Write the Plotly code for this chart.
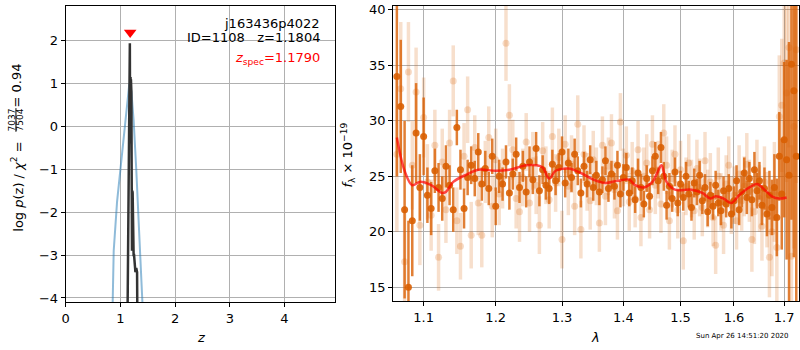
import numpy as np
import plotly.graph_objects as go

W, H = 800, 350
FONT = "DejaVu Sans"

# ---------------- redshift PDF panel ----------------
PZ_Z = [1.120, 1.133, 1.150, 1.160, 1.165, 1.173, 1.176, 1.180, 1.186, 1.190,
        1.193, 1.197, 1.201, 1.206, 1.212, 1.218, 1.224, 1.230, 1.236, 1.242,
        1.250, 1.258, 1.266, 1.275, 1.290, 1.305, 1.318]
PZ_LOGP = [-6.0, -4.1, -1.0, 1.50, 1.94, 1.94, 0.60, 1.15, 1.15, -0.40,
           1.10, -0.40, 0.80, -1.00, -2.90, -1.50, -1.55, -2.90, -1.60, -3.00,
           -3.00, -3.20, -3.20, -3.40, -3.30, -3.40, -6.0]

PRIOR_Z = [0.845, 0.862, 0.878, 0.939, 1.030, 1.090, 1.133, 1.163, 1.200,
           1.242, 1.290, 1.350, 1.393, 1.420, 1.435]
PRIOR_LOGP = [-5.0, -4.1, -2.9, -1.76, -0.62, 0.15, 0.76, 0.99, 0.83,
              0.14, -1.0, -2.53, -3.53, -4.1, -5.0]

Z_SPEC = 1.1790
Z_SPEC_MARK = 2.19

# ---------------- spectrum panel ----------------
WAVE = [1.065, 1.070, 1.075, 1.080, 1.085, 1.090, 1.095, 1.100, 1.105, 1.110,
        1.115, 1.120, 1.125, 1.130, 1.135, 1.140, 1.145, 1.150, 1.155, 1.160,
        1.165, 1.170, 1.175, 1.180, 1.185, 1.190, 1.195, 1.200, 1.205, 1.210,
        1.215, 1.220, 1.225, 1.230, 1.235, 1.240, 1.245, 1.250, 1.255, 1.260,
        1.265, 1.270, 1.275, 1.280, 1.285, 1.290, 1.295, 1.300, 1.305, 1.310,
        1.315, 1.320, 1.325, 1.330, 1.335, 1.340, 1.345, 1.350, 1.355, 1.360,
        1.365, 1.370, 1.375, 1.380, 1.385, 1.390, 1.395, 1.400, 1.405, 1.410,
        1.415, 1.420, 1.425, 1.430, 1.435, 1.440, 1.445, 1.450, 1.455, 1.460,
        1.465, 1.470, 1.475, 1.480, 1.485, 1.490, 1.495, 1.500, 1.505, 1.510,
        1.515, 1.520, 1.525, 1.530, 1.535, 1.540, 1.545, 1.550, 1.555, 1.560,
        1.565, 1.570, 1.575, 1.580, 1.585, 1.590, 1.595, 1.600, 1.605, 1.610,
        1.615, 1.620, 1.625, 1.630, 1.635, 1.640, 1.645, 1.650, 1.655, 1.660,
        1.665, 1.670, 1.675, 1.680, 1.685, 1.690, 1.695, 1.700, 1.705, 1.710,
        1.715, 1.720, 1.725]

FLUX_A = [34.0, 31.3, 22.0, 15.0, 21.0, 28.9, 24.0, 28.6, 23.3, 22.1,
          25.5, 24.0, 23.0, 25.9, 24.2, 22.0, 29.4, 25.6, 22.1, 24.9,
          26.0, 24.8, 27.2, 24.3, 25.7, 23.9, 26.8, 22.3, 25.0, 24.3,
          26.3, 23.5, 25.2, 27.0, 24.0, 25.9, 23.6, 26.3, 24.7, 27.5,
          23.7, 25.6, 24.2, 23.9, 26.1, 24.6, 25.8, 27.2, 24.4, 26.2,
          24.9, 27.0, 25.5, 23.5, 25.9, 24.3, 26.5, 24.0, 25.1, 23.6,
          24.7, 26.4, 23.9, 25.2, 24.1, 26.0, 23.4, 24.9, 25.8, 23.5,
          24.6, 22.9, 25.3, 24.0, 22.5, 24.8, 23.2, 25.5, 26.8, 24.6,
          27.6, 25.0, 22.4, 24.1, 23.0, 25.4, 22.6, 24.3, 23.1, 25.0,
          23.4, 22.2, 24.4, 23.6, 25.1, 22.8, 24.0, 21.8, 23.3, 22.3,
          24.2, 22.6, 21.9, 23.7, 22.5, 23.9, 21.6, 22.8, 24.6, 22.0,
          23.6, 25.3, 23.1, 24.8, 22.9, 25.6, 23.7, 24.6, 22.4, 23.9,
          21.6, 23.3, 22.2, 24.0, 21.3, 26.8, 23.4, 28.3, 26.5, 25.1,
          35.1, 32.7, 26.8]
ERR_A = [9.0, 6.0, 8.0, 6.0, 5.0, 4.5, 3.0, 3.5, 2.5, 2.4,
         2.0, 2.2, 2.0, 1.9, 1.8, 2.0, 1.6, 1.8, 1.8, 1.6,
         1.7, 1.6, 1.7, 1.5, 1.6, 1.5, 1.6, 1.7, 1.5, 1.5,
         1.5, 1.5, 1.4, 1.5, 1.4, 1.4, 1.4, 1.4, 1.3, 1.5,
         1.4, 1.3, 1.3, 1.4, 1.3, 1.3, 1.3, 1.4, 1.3, 1.3,
         1.3, 1.4, 1.3, 1.3, 1.3, 1.2, 1.3, 1.2, 1.3, 1.2,
         1.2, 1.3, 1.2, 1.2, 1.2, 1.3, 1.2, 1.2, 1.3, 1.2,
         1.2, 1.2, 1.3, 1.2, 1.2, 1.2, 1.2, 1.3, 1.3, 1.2,
         1.4, 1.3, 1.3, 1.2, 1.2, 1.3, 1.2, 1.2, 1.2, 1.3,
         1.2, 1.2, 1.3, 1.2, 1.3, 1.2, 1.2, 1.3, 1.2, 1.2,
         1.3, 1.2, 1.3, 1.3, 1.2, 1.3, 1.3, 1.3, 1.4, 1.4,
         1.4, 1.4, 1.5, 1.5, 1.5, 1.6, 1.6, 1.7, 1.8, 1.9,
         2.0, 2.2, 2.5, 3.0, 3.5, 4.0, 5.0, 7.0, 9.0, 12.0,
         14.0, 15.0, 16.0]

FLUX_B = [27.0, 32.9, 17.3, 34.4, 26.0, 32.6, 20.6, 30.3, 24.5, 21.5,
          27.8, 17.7, 26.3, 22.0, 28.0, 33.6, 21.0, 18.7, 26.8, 31.0,
          19.7, 27.6, 22.6, 19.7, 25.4, 28.5, 22.3, 26.5, 23.4, 24.8,
          37.0, 30.5, 27.4, 23.0, 21.8, 24.9, 28.1, 22.6, 26.4, 24.2,
          20.6, 27.3, 25.1, 22.9, 28.6, 24.4, 26.7, 19.3, 27.9, 24.1,
          26.1, 22.3, 29.7, 20.2, 27.0, 24.5, 22.8, 26.5, 25.0, 20.8,
          27.8, 23.2, 25.9, 28.0, 23.8, 21.9, 29.9, 24.9, 26.9, 22.7,
          25.5, 23.0, 27.4, 21.3, 25.0, 26.2, 22.0, 27.9, 24.2, 25.6,
          22.5, 28.9, 26.0, 21.0, 24.8, 27.0, 22.0, 25.6, 19.2, 24.1,
          26.2, 23.9, 21.9, 25.7, 24.0, 22.2, 26.4, 23.0, 24.5, 21.3,
          18.8, 25.0, 22.7, 20.6, 24.3, 26.0, 22.4, 23.3, 21.0, 25.2,
          22.8, 24.1, 26.1, 23.7, 19.3, 21.8, 25.3, 23.0, 20.5, 24.5,
          22.0, 17.7, 20.0, 23.6, 18.6, 30.4, 31.4, 35.2, 32.5, 36.6,
          17.8, 29.5, 36.4]
ERR_B = [7.0, 6.0, 5.0, 4.5, 4.0, 4.0, 3.6, 3.6, 3.4, 3.2,
         3.2, 3.0, 3.0, 3.0, 3.0, 3.2, 3.0, 3.0, 3.0, 3.0,
         3.0, 2.9, 2.9, 2.9, 2.8, 2.8, 2.8, 2.8, 2.8, 2.7,
         3.4, 2.8, 2.7, 2.7, 2.7, 2.6, 2.6, 2.6, 2.6, 2.6,
         2.6, 2.6, 2.6, 2.6, 2.6, 2.6, 2.6, 2.6, 2.6, 2.6,
         2.6, 2.6, 2.6, 2.6, 2.6, 2.6, 2.6, 2.6, 2.6, 2.6,
         2.6, 2.6, 2.6, 2.6, 2.6, 2.6, 2.6, 2.6, 2.6, 2.6,
         2.6, 2.6, 2.6, 2.6, 2.6, 2.6, 2.6, 2.6, 2.6, 2.6,
         2.6, 2.6, 2.6, 2.6, 2.6, 2.6, 2.6, 2.6, 2.6, 2.6,
         2.6, 2.6, 2.6, 2.6, 2.6, 2.6, 2.6, 2.6, 2.6, 2.6,
         2.6, 2.6, 2.6, 2.6, 2.6, 2.6, 2.6, 2.6, 2.6, 2.6,
         2.7, 2.7, 2.8, 2.8, 2.9, 2.9, 3.0, 3.0, 3.1, 3.2,
         3.4, 3.6, 4.0, 4.5, 5.0, 5.5, 6.0, 7.0, 8.0, 9.0,
         10.0, 11.0, 12.0]

MODEL_WAVE = [1.065, 1.075, 1.085, 1.095, 1.110, 1.125, 1.130, 1.140, 1.160,
              1.175, 1.200, 1.220, 1.245, 1.260, 1.270, 1.280, 1.290, 1.310,
              1.330, 1.350, 1.370, 1.390, 1.410, 1.420, 1.435, 1.450, 1.460,
              1.466, 1.475, 1.490, 1.520, 1.540, 1.555, 1.565, 1.580, 1.595,
              1.610, 1.630, 1.645, 1.660, 1.675, 1.690, 1.705]
MODEL_FLUX = [28.5, 25.5, 24.2, 24.5, 24.2, 23.5, 23.6, 24.5, 25.2,
              25.6, 25.5, 25.6, 26.0, 26.0, 25.8, 24.8, 25.5, 25.7,
              25.3, 24.7, 24.4, 24.6, 24.7, 24.2, 24.0, 24.5, 25.5,
              26.0, 24.5, 23.8, 23.8, 23.5, 23.0, 23.2, 23.0, 22.6,
              23.3, 24.0, 24.3, 23.8, 23.2, 23.0, 23.1]

LAM_TICKS = [1.1, 1.2, 1.3, 1.4, 1.5, 1.6, 1.7]

ORANGE = "217,95,2"

fig = go.Figure()

# p(z) curves
fig.add_trace(go.Scatter(x=PRIOR_Z, y=PRIOR_LOGP, mode="lines",
                         line=dict(color="rgba(31,119,180,0.5)", width=2),
                         xaxis="x", yaxis="y", showlegend=False))
fig.add_trace(go.Scatter(x=PZ_Z, y=PZ_LOGP, mode="lines",
                         line=dict(color="#333333", width=2.5),
                         xaxis="x", yaxis="y", showlegend=False))
fig.add_trace(go.Scatter(x=[Z_SPEC], y=[Z_SPEC_MARK], mode="markers",
                         marker=dict(symbol="triangle-down", size=11, color="red"),
                         xaxis="x", yaxis="y", showlegend=False))

# spectrum: faint and strong sets, then the model
fig.add_trace(go.Scatter(x=WAVE, y=FLUX_B, mode="markers",
                         marker=dict(size=7, color=f"rgba({ORANGE},0.22)"),
                         error_y=dict(type="data", array=ERR_B, width=0,
                                      thickness=3.5, color=f"rgba({ORANGE},0.2)"),
                         xaxis="x2", yaxis="y2", showlegend=False))
fig.add_trace(go.Scatter(x=WAVE, y=FLUX_A, mode="markers",
                         marker=dict(size=7, color=f"rgba({ORANGE},0.9)"),
                         error_y=dict(type="data", array=ERR_A, width=0,
                                      thickness=2.5, color=f"rgba({ORANGE},0.8)"),
                         xaxis="x2", yaxis="y2", showlegend=False))
fig.add_trace(go.Scatter(x=MODEL_WAVE, y=MODEL_FLUX, mode="lines",
                         line=dict(color="rgba(255,0,0,0.7)", width=2.5, shape="spline"),
                         xaxis="x2", yaxis="y2", showlegend=False))

axis_common = dict(showline=True, mirror=True, linecolor="black", linewidth=1,
                   ticks="outside", ticklen=4, tickcolor="black",
                   showgrid=True, gridcolor="#b0b0b0", gridwidth=1,
                   zeroline=False, ticklabeloverflow="allow",
                   tickfont=dict(family=FONT, size=13, color="black"))

ydom = [1 - 304.5 / H, 1 - 3.3 / H]
fig.update_layout(
    width=W, height=H, margin=dict(l=0, r=0, t=0, b=0),
    paper_bgcolor="white", plot_bgcolor="white",
    xaxis=dict(domain=[62 / W, 333 / W], range=[0, 4.93],
               tickvals=[0, 1, 2, 3, 4], anchor="y", **axis_common),
    yaxis=dict(domain=ydom, range=[-4.1, 2.8],
               tickvals=[-4, -3, -2, -1, 0, 1, 2], anchor="x", **axis_common),
    xaxis2=dict(domain=[391 / W, 799 / W], type="log",
                range=[np.log10(1.0601), np.log10(1.7307)],
                tickvals=LAM_TICKS, ticktext=[f"{v:.1f}" for v in LAM_TICKS],
                anchor="y2", **axis_common),
    yaxis2=dict(domain=[1 - 303.3 / H, 1 - 3.0 / H], range=[13.76, 40.35],
                tickvals=[15, 20, 25, 30, 35, 40], anchor="x2", **axis_common),
)


def px(x, y):
    return x / W, 1 - y / H


def note(text, x, y, size=13, color="black", angle=0, xanchor="center"):
    ax, ay = px(x, y)
    fig.add_annotation(text=text, x=ax, y=ay, xref="paper", yref="paper",
                       showarrow=False, textangle=angle, xanchor=xanchor,
                       yanchor="middle",
                       font=dict(family=FONT, size=size, color=color))


# labels inside the p(z) panel
note("j163436p4022", 320, 21, xanchor="right")
note("ID=1108   z=1.1804", 320, 35, xanchor="right")
note("<i>z</i><sub>spec</sub>=1.1790", 320, 56, color="red", xanchor="right")

# y label of the p(z) panel, with a stacked fraction
note("log <i>p</i>(z) / <i>χ</i><sup>2</sup> =", 13, 187, angle=-90)
note("7037", 7.5, 119, size=9, angle=-90)
note("7504", 16.5, 119, size=9, angle=-90)
fig.add_shape(type="line", xref="paper", yref="paper",
              x0=12 / W, x1=12 / W, y0=1 - 107 / H, y1=1 - 131 / H,
              line=dict(color="black", width=1))
note("= 0.94", 13, 84, angle=-90)

note("<i>z</i>", 198, 340)
note("<i>λ</i>", 594, 340)
note("<i>f</i><sub>λ</sub> × 10<sup>−19</sup>", 346, 155, angle=-90)
note("Sun Apr 26 14:51:20 2020", 742, 339, size=7)

fig.write_html("out.html")
